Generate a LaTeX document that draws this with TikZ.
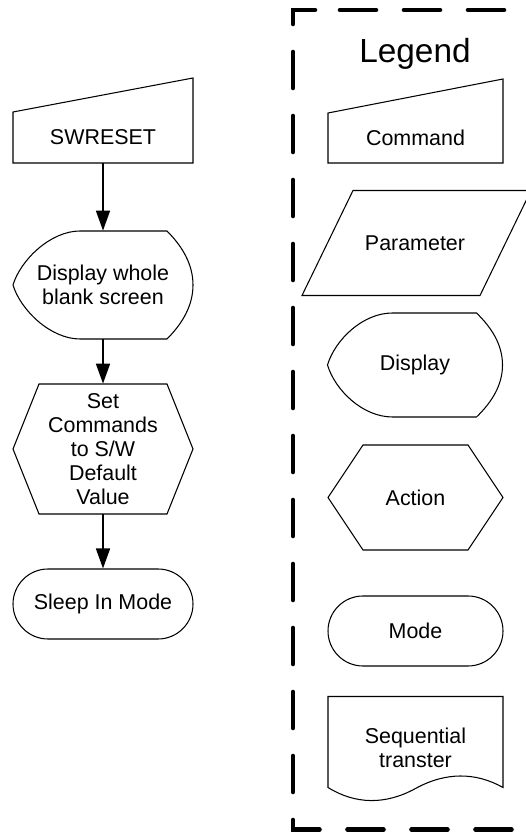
\documentclass[tikz,border=0pt]{standalone}
\usepackage{fontspec}
\setmainfont{Liberation Sans}
\usepackage{tikz}
\usetikzlibrary{arrows.meta}

\begin{document}
\begin{tikzpicture}[
    txt/.style={font=\fontsize{12.2}{13.7}\selectfont, align=center, inner sep=0pt},
    outline/.style={line width=0.6pt},
    flow/.style={line width=0.9pt, -{Triangle[length=0.4cm, width=0.28cm]}},
    modebox/.style={txt, draw, outline, rounded corners=0.7cm, minimum height=1.4cm},
    frame/.style={line width=2.6pt, dash pattern=on 0.72cm off 0.56cm, line cap=round}
]
    \useasboundingbox (0,0) rectangle (10.5,16.68);

    % Flow
    \node[txt, minimum width=3.6cm, minimum height=1.02cm] (swreset) at (2.06,13.93) {SWRESET};
    \node[txt, minimum width=3.6cm, minimum height=2.16cm] (blank) at (2.06,10.98) {Display whole\\blank screen};
    \node[txt, minimum width=3.6cm, minimum height=2.6cm] (swdefault) at (2.06,7.70) {Set\\Commands\\to S/W\\Default\\Value};
    \node[modebox, minimum width=3.6cm] (sleepin) at (2.06,4.60) {Sleep In Mode};

    % Flow outlines
    \draw[outline, shift={(swreset.center)}] (-1.8,-0.51) -- (1.8,-0.51) -- (1.8,1.19) -- (-1.8,0.51) -- cycle;
    \draw[outline, shift={(blank.center)}] (-0.46,1.08) -- (1.28,1.08)
        .. controls (1.6,0.76) and (1.8,0.4) .. (1.8,0)
        .. controls (1.8,-0.4) and (1.6,-0.76) .. (1.28,-1.08) -- (-0.46,-1.08)
        .. controls (-1.05,-1.08) and (-1.65,-0.5) .. (-1.8,0)
        .. controls (-1.65,0.5) and (-1.05,1.08) .. (-0.46,1.08) -- cycle;
    \draw[outline, shift={(swdefault.center)}] (-1.8,0) -- (-1.28,1.3) -- (1.28,1.3) -- (1.8,0) -- (1.28,-1.3) -- (-1.28,-1.3) -- cycle;

    % Arrows
    \draw[flow] (swreset.south) -- (blank.north);
    \draw[flow] (blank.south) -- (swdefault.north);
    \draw[flow] (swdefault.south) -- (sleepin.north);

    % Legend
    \draw[frame] (6.30,16.48) -- (5.86,16.48) -- (5.86,0.09) -- (11.2,0.09) -- (11.2,16.48) -- cycle;
    \node[font=\fontsize{19}{23}\selectfont, anchor=base, inner sep=0pt] (legend) at (8.30,15.42) {Legend};

    \node[txt] (command) at (8.31,13.92) {Command};
    \node[txt] (parameter) at (8.30,11.82) {Parameter};
    \node[txt] (display) at (8.30,9.38) {Display};
    \node[txt] (action) at (8.31,6.73) {Action};
    \node[modebox, minimum width=3.5cm] (mode) at (8.31,4.06) {Mode};
    \node[txt] (seqtrans) at (8.31,1.73) {Sequential\\transter};

    % Legend outlines
    \draw[outline, shift={(command.center)}] (-1.75,-0.50) -- (1.75,-0.50) -- (1.75,1.18) -- (-1.75,0.50) -- cycle;
    \draw[outline, shift={(parameter.center)}] (-2.26,-1.05) -- (1.30,-1.05) -- (2.32,1.05) -- (-1.24,1.05) -- cycle;
    \draw[outline, shift={(display.center)}] (-0.45,1.04) -- (1.23,1.04)
        .. controls (1.54,0.74) and (1.75,0.4) .. (1.75,0)
        .. controls (1.75,-0.4) and (1.54,-0.74) .. (1.23,-1.04) -- (-0.45,-1.04)
        .. controls (-1.05,-1.04) and (-1.6,-0.5) .. (-1.75,0)
        .. controls (-1.6,0.5) and (-1.05,1.04) .. (-0.45,1.04) -- cycle;
    \draw[outline, shift={(action.center)}] (-1.75,0) -- (-1.05,1.05) -- (1.05,1.05) -- (1.75,0) -- (1.05,-1.05) -- (-1.05,-1.05) -- cycle;
    \draw[outline, shift={(seqtrans.center)}] (-1.75,-0.80) -- (-1.75,1.02) -- (1.75,1.02) -- (1.75,-0.80)
        .. controls (1.2,-0.49) and (0.6,-0.49) .. (0,-0.82)
        .. controls (-0.6,-1.15) and (-1.2,-1.14) .. (-1.75,-0.80) -- cycle;
\end{tikzpicture}
\end{document}
